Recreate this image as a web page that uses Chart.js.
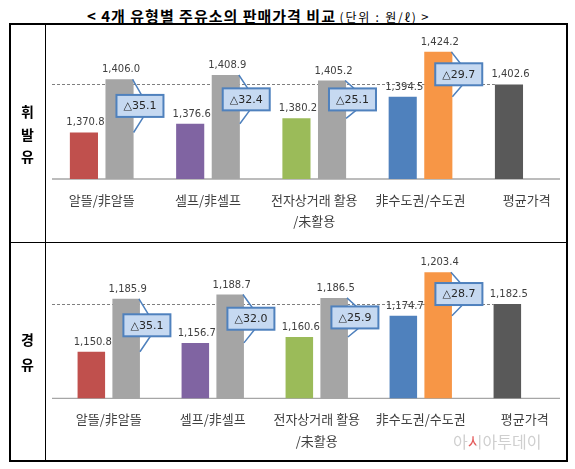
<!DOCTYPE html>
<html>
<head>
<meta charset="utf-8">
<script src="https://cdn.jsdelivr.net/npm/chart.js@4/dist/chart.umd.min.js"></script>
<style>
  html, body { margin:0; padding:0; background:#fff; }
  body { width:575px; height:469px; overflow:hidden; position:relative; font-family:"Noto Sans CJK KR", sans-serif; }
  #title { position:absolute; left:87px; top:3px; white-space:nowrap; color:#000; }
  #title .big { font-size:15px; font-weight:bold; letter-spacing:1px; }
  #title .small { font-size:12px; letter-spacing:1.8px; }
  canvas { position:absolute; left:0; }
  .ln { position:absolute; background:#000; z-index:5; }
  .side { position:absolute; left:10px; width:35px; text-align:center; font-weight:bold; font-size:14px; color:#000; z-index:5; }
  .side div { position:absolute; left:0; width:35px; text-align:center; }
  #wm { position:absolute; left:453px; top:429px; font-size:16px; color:#cfcfcf; z-index:6; }
  #wm .s { background:linear-gradient(to right, #e45a5a 55%, #cfcfcf 55%); -webkit-background-clip:text; background-clip:text; color:transparent; }
</style>
</head>
<body>
<div id="title"><span class="big">&lt; 4개 유형별 주유소의 판매가격 비교</span> <span class="small">(단위 : 원/ℓ)</span> <span style="font-size:13px">&gt;</span></div>

<canvas id="c1" width="600" height="242" style="top:0"></canvas>
<canvas id="c2" width="600" height="220" style="top:242px"></canvas>

<!-- table borders -->
<div class="ln" style="left:9px;top:23px;width:559px;height:1.5px"></div>
<div class="ln" style="left:9px;top:241.5px;width:559px;height:1.5px"></div>
<div class="ln" style="left:9px;top:460px;width:559px;height:1.5px"></div>
<div class="ln" style="left:9px;top:23px;width:1.5px;height:438.5px"></div>
<div class="ln" style="left:44.5px;top:23px;width:1.5px;height:438.5px"></div>
<div class="ln" style="left:566px;top:23px;width:1.5px;height:438.5px"></div>

<div class="side"><div style="top:101px">휘</div><div style="top:123.5px">발</div><div style="top:146px">유</div></div>
<div class="side"><div style="top:329px">경</div><div style="top:354px">유</div></div>

<div id="wm">아<span class="s">시</span>아투데이</div>

<script>
// ---- data ----
const categories = ['알뜰/非알뜰', '셀프/非셀프', ['전자상거래 활용', '/未활용'], '非수도권/수도권', '평균가격'];
const gasolineLow  = [1370.8, 1376.6, 1380.2, 1394.5, 1402.6];
const gasolineHigh = [1406.0, 1408.9, 1405.2, 1424.2, null];
const gasolineDiff = [35.1, 32.4, 25.1, 29.7];
const dieselLow    = [1150.8, 1156.7, 1160.6, 1174.7, 1182.5];
const dieselHigh   = [1185.9, 1188.7, 1186.5, 1203.4, null];
const dieselDiff   = [35.1, 32.0, 25.9, 28.7];

// ---- styles ----
const lowColors  = ['#c0504d', '#8064a2', '#9bbb59', '#4f81bd', '#595959'];
const highColors = ['#a5a5a5', '#a5a5a5', '#a5a5a5', '#f79646', '#a5a5a5'];
const fmt = v => v.toLocaleString('en-US', {minimumFractionDigits: 1, maximumFractionDigits: 1});

const decorPlugin = {
  id: 'decor',
  beforeDatasetsDraw(chart) {
    const ctx = chart.ctx;
    const y = chart.scales.y;
    const low = chart.getDatasetMeta(0).data;
    const avgBar = low[low.length - 1];
    const avgVal = chart.data.datasets[0].data[low.length - 1];
    ctx.save();
    ctx.strokeStyle = '#a6a6a6';
    ctx.lineWidth = 1.3;
    const by = y.getPixelForValue(y.min);
    ctx.beginPath(); ctx.moveTo(52, by); ctx.lineTo(560, by); ctx.stroke();
    ctx.strokeStyle = '#7f7f7f';
    ctx.lineWidth = 1;
    ctx.setLineDash([3, 2]);
    const ay = Math.round(y.getPixelForValue(avgVal)) + 0.5;
    ctx.beginPath(); ctx.moveTo(52, ay); ctx.lineTo(avgBar.x - avgBar.width / 2, ay); ctx.stroke();
    ctx.restore();
  },
  afterDatasetsDraw(chart, args, opts) {
    const ctx = chart.ctx;
    const lowMeta = chart.getDatasetMeta(0).data;
    const highMeta = chart.getDatasetMeta(1).data;
    ctx.save();
    ctx.font = '10px "DejaVu Sans"';
    ctx.fillStyle = '#404040';
    ctx.textAlign = 'center';
    ctx.textBaseline = 'alphabetic';
    [0, 1].forEach(di => {
      const meta = chart.getDatasetMeta(di).data;
      chart.data.datasets[di].data.forEach((v, i) => {
        if (v == null) return;
        const el = meta[i];
        ctx.fillText(fmt(v), el.x + 1.5, el.y - 7);
      });
    });
    const diffs = opts.diffs || [];
    diffs.forEach((d, i) => {
      const a = lowMeta[i], b = highMeta[i];
      const bl = b.x - b.width / 2, br = b.x + b.width / 2;
      const w = 47, h = 22;
      const left = bl + 11;
      const cy = (a.y + b.y) / 2;
      const top = cy - h / 2;
      ctx.strokeStyle = '#4f81bd';
      ctx.lineWidth = 1.5;
      ctx.beginPath();
      ctx.moveTo(br - 1, b.y); ctx.lineTo(left + 25, top);
      ctx.moveTo(left + 27, top + h); ctx.lineTo(br, a.y);
      ctx.stroke();
      ctx.fillStyle = '#c6d9f1';
      ctx.fillRect(left, top, w, h);
      ctx.lineWidth = 2;
      ctx.strokeRect(left, top, w, h);
      ctx.fillStyle = '#262626';
      ctx.font = '11px "DejaVu Sans"';
      ctx.textBaseline = 'middle';
      ctx.fillText('△' + d.toFixed(1), left + w / 2, cy + 0.5);
    });
    ctx.restore();
  }
};

function makeChart(id, low, high, diffs, yMin, yMax, pad, axisH) {
  return new Chart(document.getElementById(id), {
    type: 'bar',
    data: {
      labels: categories,
      datasets: [
        { data: low, backgroundColor: lowColors, borderWidth: 0 },
        { data: high, backgroundColor: highColors, borderWidth: 0 }
      ]
    },
    options: {
      responsive: false,
      animation: false,
      events: [],
      layout: { padding: pad },
      categoryPercentage: 0.67,
      barPercentage: 0.79,
      plugins: { legend: { display: false }, tooltip: { enabled: false }, decor: { diffs } },
      scales: {
        x: {
          grid: { display: false, drawTicks: false },
          border: { display: false },
          ticks: { color: '#404040', padding: 10, font: { family: '"Noto Sans CJK KR"', size: 13, lineHeight: 1.66 }, maxRotation: 0, autoSkip: false },
          afterFit: s => { s.height = axisH; }
        },
        y: { display: false, min: yMin, max: yMax }
      }
    },
    plugins: [decorPlugin]
  });
}

makeChart('c1', gasolineLow, gasolineHigh, gasolineDiff, 1340, 1440,
  { left: 48.6, right: 20.1, top: 28, bottom: 0 }, 63);
makeChart('c2', dieselLow, dieselHigh, dieselDiff, 1120, 1220,
  { left: 56.75, right: 23.25, top: 5.3, bottom: 0 }, 63.7);
</script>
</body>
</html>
